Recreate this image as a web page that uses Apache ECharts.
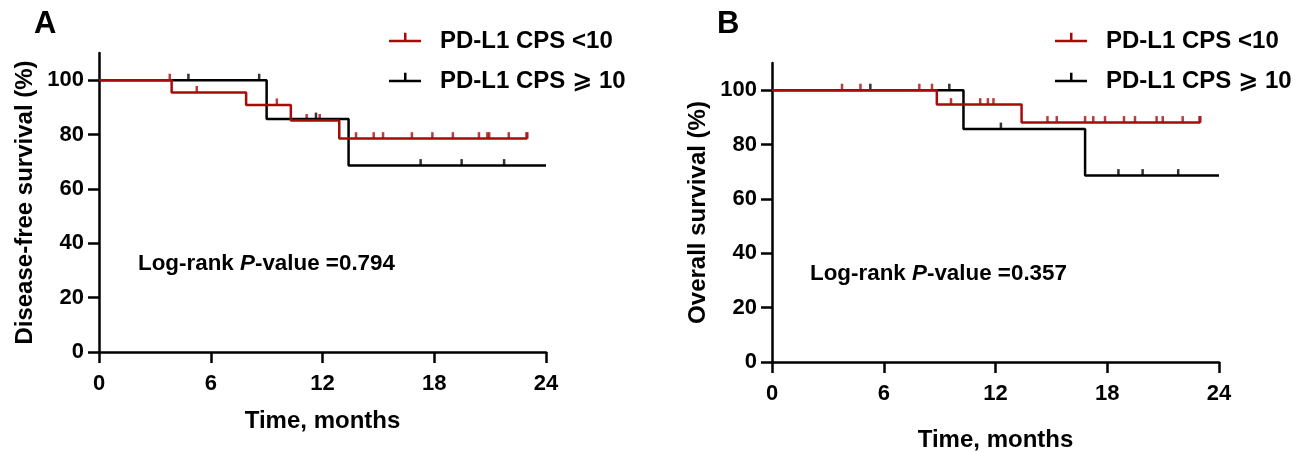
<!DOCTYPE html>
<html>
<head>
<meta charset="utf-8">
<script src="https://cdn.jsdelivr.net/npm/echarts@6/dist/echarts.min.js"></script>
<style>
html,body{margin:0;padding:0;background:#fff;}
#c{width:1308px;height:452px;}
</style>
</head>
<body>
<div id="c"></div>
<script>
// ---------- data ----------
const seriesNames = ['PD-L1 CPS <10', 'PD-L1 CPS \u2A7E\u2009\u200A10'];
const xTicks = [0, 6, 12, 18, 24];
const yTicks = [0, 20, 40, 60, 80, 100];

// Panel A: disease-free survival  [time (months), survival %]
const dfsLowSteps  = [[0,100],[3.9,95.5],[7.9,90.9],[10.3,85.2],[12.9,78.5],[23.0,78.5]];
const dfsLowCens   = [3.8, 5.25, 9.55, 11.15, 11.85, 13.8, 14.75, 15.25, 16.8, 17.9, 19.0, 20.4, 20.85, 20.95, 22.0, 22.95, 23.0];
const dfsHighSteps = [[0,100],[9.0,85.7],[13.4,68.6],[24.0,68.6]];
const dfsHighCens  = [4.8, 8.6, 11.65, 17.27, 19.47, 21.75];

// Panel B: overall survival
const osLowSteps  = [[0,100],[8.85,94.7],[13.4,88.1],[23.0,88.1]];
const osLowCens   = [3.76, 4.75, 7.91, 8.59, 9.61, 11.18, 11.59, 11.89, 14.79, 15.29, 16.81, 17.25, 17.88, 18.9, 19.49, 20.65, 20.98, 22.05, 22.95, 23.0];
const osHighSteps = [[0,100],[10.28,85.7],[16.81,68.6],[24.0,68.6]];
const osHighCens  = [5.28, 9.52, 12.29, 18.6, 19.9, 21.81];

const pA = '0.794';
const pB = '0.357';

// ---------- helpers ----------
const RED = '#a80a0a';
const BLACK = '#000000';
const FONT = "'Liberation Sans', Arial, 'DejaVu Sans', sans-serif";

function survAt(steps, t){ // step lookup (value of the curve at time t)
  let s = steps[0][1];
  for (const p of steps){ if (p[0] <= t) s = p[1]; }
  return s;
}
function censPoints(steps, times){ return times.map(t => [t, survAt(steps, t)]); }

function lineSeries(name, data, color, idx){
  return {type:'line', name, data, step:'end', xAxisIndex:idx, yAxisIndex:idx,
    showSymbol:false, symbol:'none', lineStyle:{color, width:2.5}, itemStyle:{color},
    animation:false, silent:true};
}
function censSeries(name, data, color, idx){
  return {type:'scatter', name, data, xAxisIndex:idx, yAxisIndex:idx,
    symbol:'rect', symbolSize:[2.5, 6.5], symbolOffset:[0,-3.2],
    itemStyle:{color}, animation:false, silent:true};
}

const labelStyle = {color:'#000', fontSize:22, fontWeight:'bold', fontFamily:FONT};
const nameStyle = {color:'#000', fontSize:24, fontWeight:'bold', fontFamily:FONT};
const axisLineStyle = {show:true, lineStyle:{color:'#000', width:2.5}};

function xAxisCfg(idx, gap){
  return {type:'value', gridIndex:idx, min:0, max:24, interval:6,
    name:'Time, months', nameLocation:'middle', nameGap:gap, nameTextStyle:nameStyle,
    axisLine:axisLineStyle, axisTick:{show:true, length:11, lineStyle:{width:2.5,color:'#000'}},
    axisLabel:Object.assign({margin:21}, labelStyle), splitLine:{show:false}};
}
function yAxisCfg(idx, title){
  return {type:'value', gridIndex:idx, min:0, max:110,
    name:title, nameLocation:'middle', nameGap:62, nameRotate:90, nameTextStyle:nameStyle,
    axisLine:axisLineStyle,
    axisTick:{show:true, length:11, lineStyle:{width:2.5,color:'#000'}, customValues:yTicks},
    axisLabel:Object.assign({margin:15, customValues:yTicks}, labelStyle),
    splitLine:{show:false}};
}

const legendIcon = 'path://M0,7 H15 V0 H17.5 V7 H32 V9.5 H0 Z M0,16.5 L0.01,16.5 L0,16.49 Z';
function legendCfg(left){
  return {orient:'vertical', left, top:29, padding:0, data:seriesNames, icon:legendIcon,
    itemWidth:32, itemHeight:16.5, itemGap:16, selectedMode:false,
    textStyle:{color:'#000', fontSize:24, fontWeight:'bold', fontFamily:FONT, padding:[0,0,0,14]}};
}
function pTitle(left, top, p){
  return {left, top, padding:0, text:'{a|Log-rank }{b|P}{a|-value =' + p + '}',
    textStyle:{rich:{
      a:{color:'#000', fontSize:22.4, fontWeight:'bold', fontFamily:FONT},
      b:{color:'#000', fontSize:22.4, fontWeight:'bold', fontStyle:'italic', fontFamily:FONT}}}};
}

const option = {
  backgroundColor:'#fff',
  animation:false,
  title:[
    {left:34, top:9, padding:0, text:'A', textStyle:{color:'#000', fontSize:31, fontWeight:'bold', fontFamily:FONT}},
    {left:717, top:9, padding:0, text:'B', textStyle:{color:'#000', fontSize:31, fontWeight:'bold', fontFamily:FONT}},
    pTitle(138, 253, pA),
    pTitle(810, 263, pB)
  ],
  legend:[legendCfg(389), legendCfg(1055)],
  grid:[
    {left:99, top:53, width:447, height:299, containLabel:false, outerBoundsMode:'none'},
    {left:772, top:63, width:447, height:299, containLabel:false, outerBoundsMode:'none'}
  ],
  xAxis:[xAxisCfg(0, 57), xAxisCfg(1, 66)],
  yAxis:[yAxisCfg(0, 'Disease-free survival (%)'), yAxisCfg(1, 'Overall survival (%)')],
  series:[
    lineSeries(seriesNames[1], dfsHighSteps, BLACK, 0),
    censSeries(seriesNames[1], censPoints(dfsHighSteps, dfsHighCens), BLACK, 0),
    lineSeries(seriesNames[0], dfsLowSteps, RED, 0),
    censSeries(seriesNames[0], censPoints(dfsLowSteps, dfsLowCens), RED, 0),
    lineSeries(seriesNames[1], osHighSteps, BLACK, 1),
    censSeries(seriesNames[1], censPoints(osHighSteps, osHighCens), BLACK, 1),
    lineSeries(seriesNames[0], osLowSteps, RED, 1),
    censSeries(seriesNames[0], censPoints(osLowSteps, osLowCens), RED, 1)
  ]
};

const chart = echarts.init(document.getElementById('c'), null, {renderer:'canvas'});
chart.setOption(option);
</script>
</body>
</html>
